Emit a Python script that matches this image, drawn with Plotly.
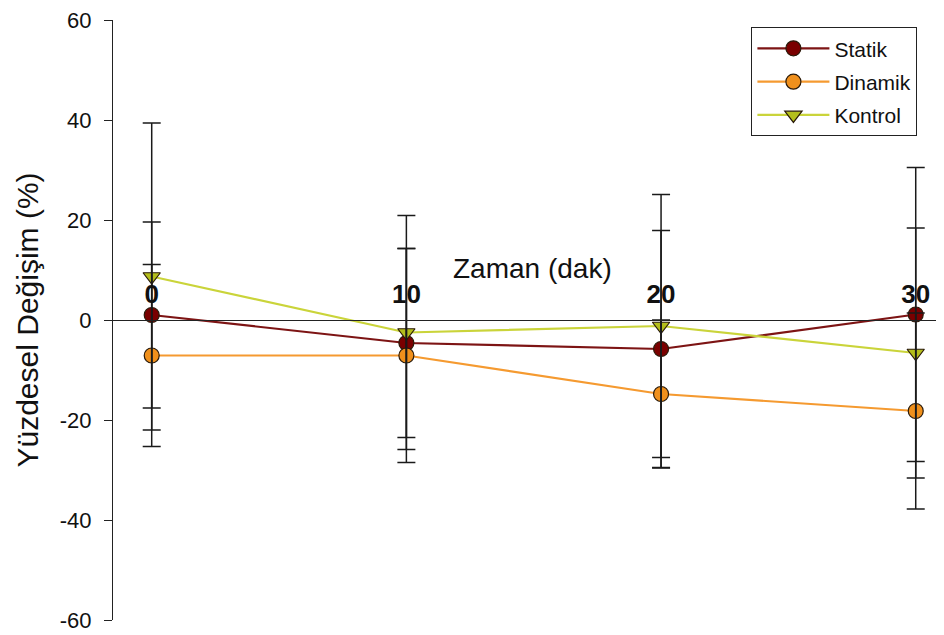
import plotly.graph_objects as go

zaman = [0, 10, 20, 30]
tick_labels = ["0", "10", "20", "30"]
y_ticks = [-60, -40, -20, 0, 20, 40, 60]
y_tick_labels = ["-60", "-40", "-20", "0", "20", "40", "60"]

statik = [1.0, -4.6, -5.8, 1.1]
statik_err = [18.6, 18.9, 23.7, 29.4]

dinamik = [-7.1, -7.1, -14.8, -18.2]
dinamik_err = [18.2, 21.4, 14.8, 19.6]

kontrol = [8.7, -2.5, -1.2, -6.6]
kontrol_err = [30.7, 23.4, 26.3, 25.0]

FONT = "Arial, Liberation Sans, sans-serif"

series = [
    ("Statik", statik, statik_err, "#7d1414", "#7a0000", "circle"),
    ("Dinamik", dinamik, dinamik_err, "#f59a30", "#f0901c", "circle"),
    ("Kontrol", kontrol, kontrol_err, "#cad43a", "#b4be1c", "triangle-down"),
]

fig = go.Figure()

for name, vals, err, lcol, mcol, sym in series:
    fig.add_trace(go.Scatter(
        x=zaman, y=vals, name=name, mode="lines+markers",
        line=dict(color=lcol, width=2.2),
        marker=dict(symbol=sym, size=15, color=mcol,
                    line=dict(color="#2a1a0a", width=1.2)),
        legendgroup=name,
    ))

for name, vals, err, lcol, mcol, sym in series:
    fig.add_trace(go.Scatter(
        x=zaman, y=vals, mode="none", showlegend=False, hoverinfo="skip",
        error_y=dict(type="data", array=err, visible=True,
                     color="#1a1a1a", thickness=1.5, width=9),
    ))

fig.add_annotation(
    text="Zaman (dak)", xref="paper", x=0.505, yref="y", y=0,
    yanchor="bottom", yshift=34, showarrow=False,
    font=dict(size=28, family=FONT, color="#111111"),
)

fig.update_layout(
    width=936, height=627,
    margin=dict(l=105, r=0, t=9, b=15),
    paper_bgcolor="white", plot_bgcolor="white",
    font=dict(family=FONT, color="#111111"),
    showlegend=True,
    legend=dict(
        x=0.968, xanchor="right", y=0.988, yanchor="top",
        bordercolor="#222222", borderwidth=1, bgcolor="white",
        font=dict(size=21, family=FONT, color="#111111"),
        itemwidth=72, tracegroupgap=3,
    ),
    xaxis=dict(
        range=[-1.52, 31.11], anchor="free", position=0.5, side="top",
        tickvals=zaman, ticktext=tick_labels, ticks="",
        tickfont=dict(size=26, family=FONT, color="#111111", weight="bold"),
        ticklabelstandoff=7, ticklabeloverflow="allow",
        showline=True, linecolor="#222222", linewidth=1,
        showgrid=False, zeroline=False,
    ),
    yaxis=dict(
        range=[-60, 60], tickvals=y_ticks, ticktext=y_tick_labels,
        ticks="outside", ticklen=8, tickcolor="#222222", tickwidth=1,
        ticklabelstandoff=8, ticklabeloverflow="allow",
        tickfont=dict(size=22, family=FONT, color="#111111"),
        showline=True, linecolor="#222222", linewidth=1,
        showgrid=False, zeroline=False,
        title=dict(text="Yüzdesel Değişim (%)", font=dict(size=30, family=FONT, color="#111111"),
                   standoff=12),
    ),
)

fig.write_html("out.html")
